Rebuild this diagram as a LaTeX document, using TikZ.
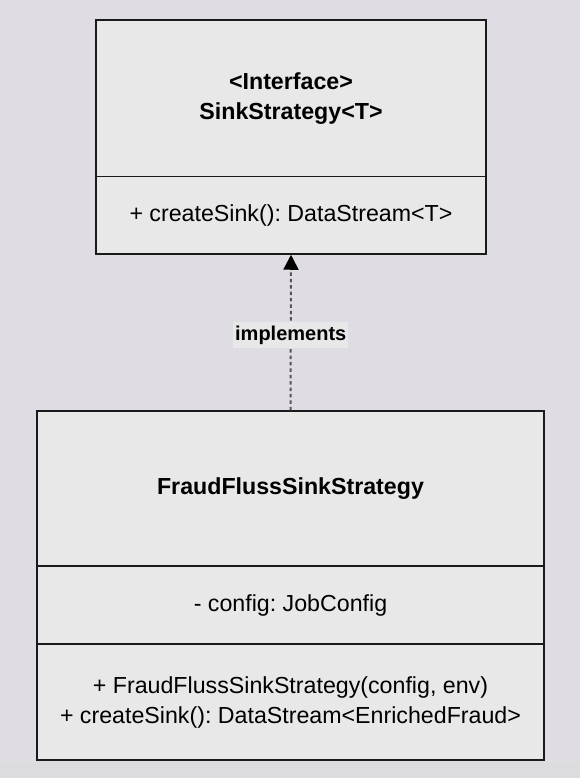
\documentclass[tikz,border=0pt]{standalone}
\usepackage{fontspec}
\setmainfont{Liberation Sans}
\usetikzlibrary{arrows.meta}
\frenchspacing
\definecolor{bgcol}{HTML}{E0DCE3}
\definecolor{stripcol}{HTML}{DCDCDE}
\definecolor{boxfill}{HTML}{E8E8E8}
\definecolor{boxline}{HTML}{1A1A1A}
\definecolor{dashcol}{HTML}{555555}
\tikzset{
  comp/.style={rectangle, draw=boxline, fill=boxfill, line width=1.125pt, inner sep=0pt, align=center,
    font=\fontsize{17.4pt}{22.5pt}\selectfont},
  titlecomp/.style={comp, font=\fontsize{17.4pt}{22.5pt}\selectfont\bfseries},
  implarrow/.style={dashcol, line width=1.5pt, dash pattern=on 2.6pt off 2.2pt,
    -{Triangle[length=11.25pt,width=11.25pt,fill=black,color=black]}, shorten >=0pt},
  impllabel/.style={fill=boxfill, inner xsep=1.5pt, inner ysep=2.5pt, text=black,
    font=\fontsize{15pt}{17pt}\selectfont\bfseries}
}
\begin{document}
\begin{tikzpicture}[x=0.75pt,y=-0.75pt]
  \fill[bgcol] (0,0) rectangle (580,778);
  \fill[stripcol] (0,762) rectangle (580,778);
  \useasboundingbox (0,0) rectangle (580,778);
  % interface
  \node[titlecomp, minimum width=292.5pt, minimum height=117.375pt] (ititle) at (291,98.25)
    {<Interface>\\SinkStrategy<T>};
  \node[comp, minimum width=292.5pt, minimum height=58.125pt] (imeth) at (291,215.25)
    {+ createSink(): DataStream<T>};
  % class
  \node[titlecomp, minimum width=380.25pt, minimum height=116.25pt] (ctitle) at (290.5,488.5)
    {FraudFlussSinkStrategy};
  \node[comp, minimum width=380.25pt, minimum height=58.5pt] (cattr) at (290.5,605)
    {- config: JobConfig};
  \node[comp, minimum width=380.25pt, minimum height=87pt] (cmeth) at (290.5,702)
    {+ FraudFlussSinkStrategy(config, env)\\+ createSink(): DataStream<EnrichedFraud>};
  % realization
  \draw[implarrow] (ctitle.north) -- (imeth.south)
    node[impllabel, pos=0.484] (lbl) {implements};
\end{tikzpicture}
\end{document}
